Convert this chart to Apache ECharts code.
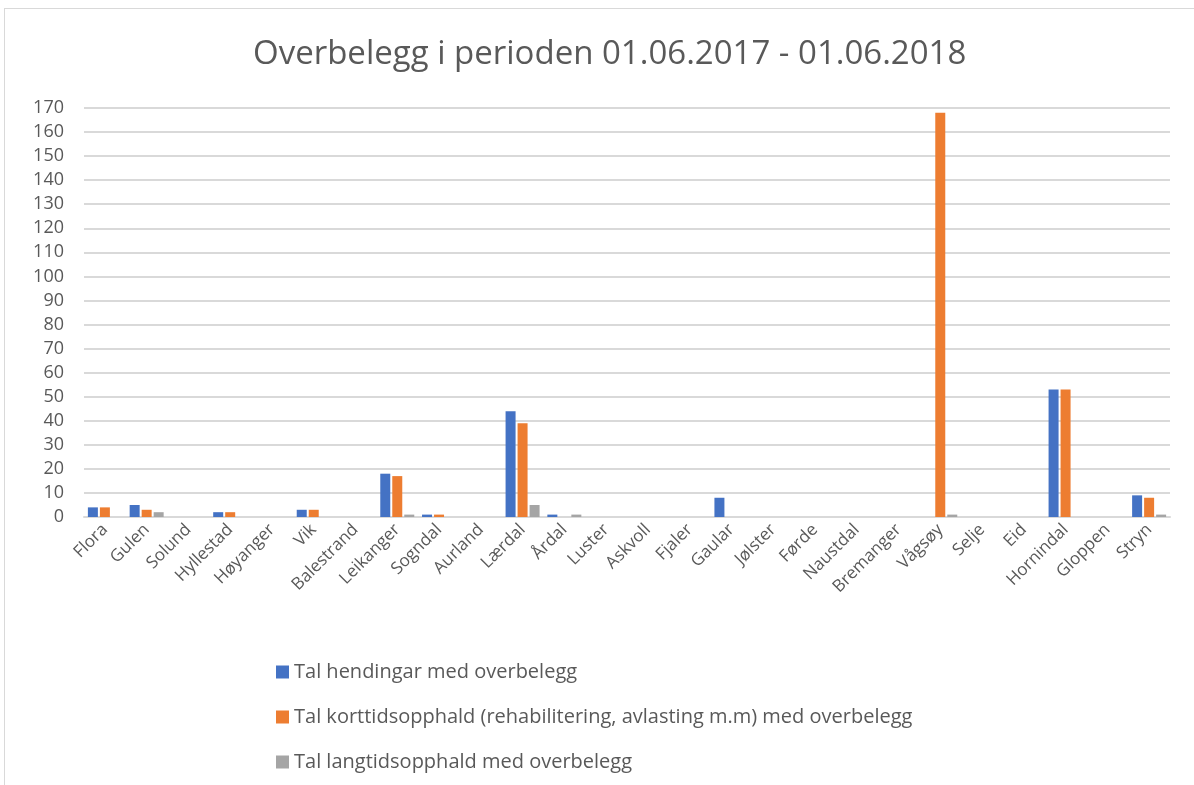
<!DOCTYPE html>
<html>
<head>
<meta charset="utf-8">
<script src="https://cdn.jsdelivr.net/npm/echarts@6/dist/echarts.min.js"></script>
<style>
html, body { margin: 0; padding: 0; background: #fff; }
#wrap { position: absolute; left: 4px; top: 8px; width: 1190px; height: 777px; border: 1px solid #d9d9d9; border-right: none; border-bottom: none; box-sizing: border-box; }
#main { width: 1194px; height: 785px; position: absolute; left: 0; top: 0; }
</style>
</head>
<body>
<div id="wrap"></div>
<div id="main"></div>
<script>
// kommunar
var kommunar = ['Flora', 'Gulen', 'Solund', 'Hyllestad', 'Høyanger', 'Vik', 'Balestrand', 'Leikanger', 'Sogndal', 'Aurland',
	'Lærdal', 'Årdal', 'Luster', 'Askvoll', 'Fjaler', 'Gaular', 'Jølster', 'Førde', 'Naustdal', 'Bremanger',
	'Vågsøy', 'Selje', 'Eid', 'Hornindal', 'Gloppen', 'Stryn'];
// Tal hendingar med overbelegg
var hendingar = [4, 5, 0, 2, 0, 3, 0, 18, 1, 0, 44, 1, 0, 0, 0, 8, 0, 0, 0, 0, 0, 0, 0, 53, 0, 9];
// Tal korttidsopphald
var korttid = [4, 3, 0, 2, 0, 3, 0, 17, 1, 0, 39, 0, 0, 0, 0, 0, 0, 0, 0, 0, 168, 0, 0, 53, 0, 8];
// Tal langtidsopphald
var langtid = [0, 2, 0, 0, 0, 0, 0, 1, 0, 0, 5, 1, 0, 0, 0, 0, 0, 0, 0, 0, 1, 0, 0, 0, 0, 1];

var seriesNames = ['Tal hendingar med overbelegg',
	'Tal korttidsopphald (rehabilitering, avlasting m.m) med overbelegg',
	'Tal langtidsopphald med overbelegg'];

var font = "'Open Sans', 'Noto Sans', sans-serif";
var txt = '#595959';

var myChart = echarts.init(document.getElementById('main'));
var option = {
	backgroundColor: 'transparent',
	animation: false,
	title: {
		text: 'Overbelegg i perioden 01.06.2017 - 01.06.2018',
		left: 248,
		top: 33,
		textStyle: { fontFamily: font, fontSize: 33, fontWeight: 'normal', color: txt }
	},
	color: ['#4472C4', '#ED7D31', '#A5A5A5'],
	legend: {
		orient: 'vertical',
		left: 271,
		top: 657,
		itemWidth: 13,
		itemHeight: 13,
		itemGap: 25,
		icon: 'rect',
		textStyle: { fontFamily: font, fontSize: 20, color: txt },
		data: seriesNames
	},
	grid: {
		left: 84,
		right: 24,
		top: 108,
		bottom: 268,
		containLabel: false
	},
	xAxis: {
		type: 'category',
		data: kommunar,
		axisTick: { show: false },
		axisLine: { lineStyle: { color: '#d9d9d9', width: 2 } },
		axisLabel: {
			rotate: 45,
			interval: 0,
			margin: 10,
			fontFamily: font,
			fontSize: 17,
			color: txt
		}
	},
	yAxis: {
		type: 'value',
		min: 0,
		max: 170,
		interval: 10,
		axisLine: { show: false },
		axisTick: { show: false },
		axisLabel: { fontFamily: font, fontSize: 18, color: txt, margin: 20 },
		splitLine: { lineStyle: { color: '#d9d9d9', width: 2 } }
	},
	series: [{
		name: seriesNames[0],
		type: 'bar',
		barWidth: 10,
		barGap: '20%',
		data: hendingar
	}, {
		name: seriesNames[1],
		type: 'bar',
		barWidth: 10,
		barGap: '20%',
		data: korttid
	}, {
		name: seriesNames[2],
		type: 'bar',
		barWidth: 10,
		barGap: '20%',
		data: langtid
	}]
};
myChart.setOption(option);
</script>
</body>
</html>
